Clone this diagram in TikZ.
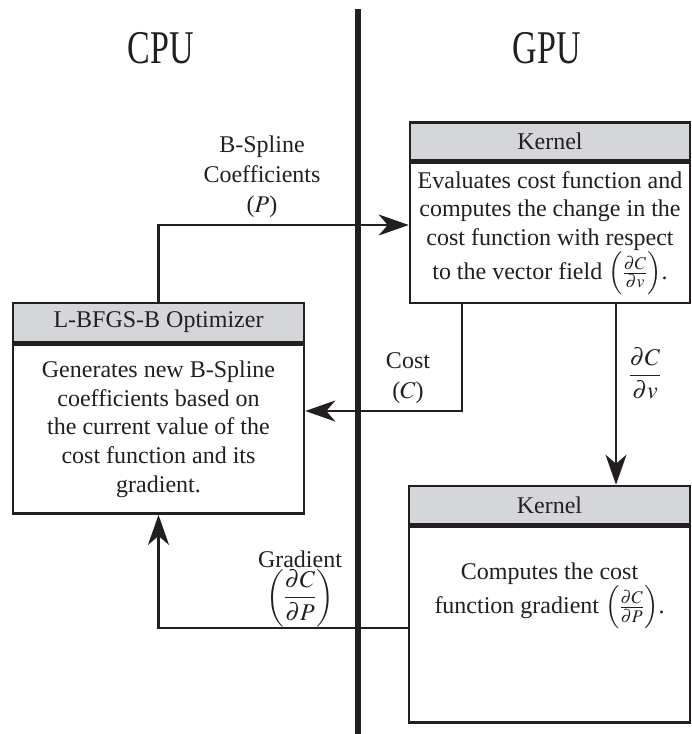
\documentclass[tikz,border=0pt]{standalone}
\usepackage{amsmath}
\usepackage{mathptmx}
\usepackage[no-math]{fontspec}
\setmainfont{Liberation Serif}
\usetikzlibrary{arrows.meta}
\definecolor{ink}{RGB}{35,31,32}
\definecolor{hdr}{RGB}{212,214,218}
\tikzset{
  hdrbox/.style={draw=ink, fill=hdr, line width=2.6pt, inner sep=0pt, text=ink,
    font=\fontsize{24}{28.7}\selectfont},
  bodybox/.style={draw=ink, fill=white, line width=2.6pt, inner sep=0pt, text=ink,
    align=center, font=\fontsize{24}{28.7}\selectfont},
  txt/.style={text=ink, align=center, inner sep=0pt, font=\fontsize{24}{30}\selectfont},
  title/.style={text=ink, inner sep=0pt, font=\fontsize{34}{40}\selectfont},
  arr/.style={draw=ink, line width=2.6pt, -{Stealth[length=30pt,width=21pt,inset=9pt]}},
}
\begin{document}
\begin{tikzpicture}[x=1pt,y=-1pt]
\useasboundingbox (0,0) rectangle (692,734);

% divider
\coordinate (divtop) at (358,9);
\coordinate (divbot) at (358,734);
\draw[ink, line width=5.5pt] (divtop) -- (divbot);

% titles
\node[title] (cpu) at (161,48.5) {\scalebox{1}[1.38]{CPU}};
\node[title] (gpu) at (547,48.5) {\scalebox{1}[1.38]{GPU}};

% top kernel
\node[hdrbox, minimum width=280pt, minimum height=38pt] (k1h) at (550,141.5) {Kernel};
\node[bodybox, minimum width=280pt, minimum height=140pt, anchor=north] (k1) at (k1h.south)
  {Evaluates cost function and\\computes the change in the\\cost function with respect\\to the vector field $\left(\frac{\partial C}{\partial v}\right)$.};

% optimizer
\node[hdrbox, minimum width=291pt, minimum height=39pt] (lbh) at (158.5,322.5) {L-BFGS-B Optimizer};
\node[bodybox, minimum width=291pt, minimum height=169pt, anchor=north] (lb) at (lbh.south)
  {Generates new B-Spline\\coefficients based on\\the current value of the\\cost function and its\\gradient.};

% bottom kernel
\node[hdrbox, minimum width=281pt, minimum height=38pt] (k2h) at (549.5,505) {Kernel};
\node[bodybox, minimum width=281pt, minimum height=196pt, anchor=north] (k2) at (k2h.south) {};
\node[txt, font=\fontsize{24}{30}\selectfont] (k2t) at (549.5,596)
  {Computes the cost\\function gradient $\left(\frac{\partial C}{\partial P}\right)$.};

% connectors
\draw[arr] (lbh.north) |- (k1.west |- 0,225);
\draw[arr] (k1.south -| 462,0) |- (lb.east |- 0,411);
\draw[arr] (k1.south -| 616,0) -- (k2h.north -| 616,0);
\draw[arr] (k2.west |- 0,628) -| (lb.south);

% labels
\node[txt] (lbsp) at (262,177) {B-Spline\\Coefficients\\($P$)};
\node[txt] (lcost) at (408,378) {Cost\\($C$)};
\node[txt] (ldv) at (645,373) {$\dfrac{\partial C}{\partial v}$};
\node[txt] (lgrad) at (300,589) {Gradient\\$\left(\dfrac{\partial C}{\partial P}\right)$};
\end{tikzpicture}
\end{document}
